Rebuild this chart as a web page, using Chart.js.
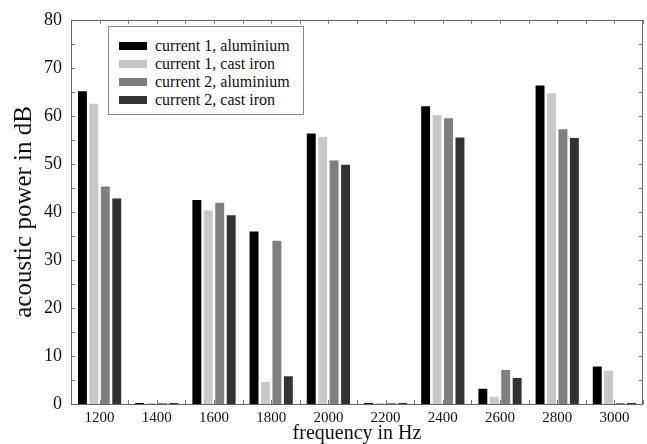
<!DOCTYPE html>
<html>
<head>
<meta charset="utf-8">
<script src="https://cdn.jsdelivr.net/npm/chart.js@4/dist/chart.umd.min.js"></script>
<style>
  html, body { margin: 0; padding: 0; background: #fff; }
  #wrap { position: relative; width: 647px; height: 444px; }
  #legend {
    position: absolute; left: 108px; top: 26px; width: 194px; height: 87px;
    border: 1px solid #8a8a8a; background: #fff;
    font-family: "Liberation Serif", serif; font-size: 16px; color: #111;
    box-sizing: content-box;
  }
  .item { position: absolute; left: 10px; height: 18px; line-height: 18px; white-space: nowrap; }
  .swatch { display: inline-block; width: 28px; height: 8px; vertical-align: middle; margin-right: 8px; position: relative; top: -1px; }
</style>
</head>
<body>
<div id="wrap">
  <canvas id="chart" width="647" height="444"></canvas>
  <div id="legend"></div>
</div>
<script>
const frequencies = ['1200', '1400', '1600', '1800', '2000', '2200', '2400', '2600', '2800', '3000'];
const current1Aluminium = [65.1, 0.2, 42.5, 35.9, 56.3, 0.2, 62.0, 3.2, 66.3, 7.8];
const current1CastIron  = [62.5, 0.2, 40.3, 4.6, 55.6, 0.2, 60.2, 1.5, 64.7, 6.9];
const current2Aluminium = [45.3, 0.2, 41.9, 34.0, 50.7, 0.2, 59.5, 7.1, 57.2, 0.2];
const current2CastIron  = [42.8, 0.2, 39.3, 5.8, 49.8, 0.2, 55.5, 5.4, 55.4, 0.2];

const series = [
    { label: 'current 1, aluminium', data: current1Aluminium, color: '#000000' },
    { label: 'current 1, cast iron', data: current1CastIron, color: '#c8c8c8' },
    { label: 'current 2, aluminium', data: current2Aluminium, color: '#7f7f7f' },
    { label: 'current 2, cast iron', data: current2CastIron, color: '#333333' }
];

// legend box inside the plot, like the original
const legendEl = document.getElementById('legend');
series.forEach((s, i) => {
    const row = document.createElement('div');
    row.className = 'item';
    row.style.top = (10 + i * 18) + 'px';
    row.innerHTML = `<span class="swatch" style="background:${s.color}"></span>${s.label}`;
    legendEl.appendChild(row);
});

// frame with inward ticks on all four sides
const framePlugin = {
    id: 'frame',
    afterDatasetsDraw(chart) {
        const { ctx, chartArea: a, scales: { x, y } } = chart;
        ctx.save();
        ctx.strokeStyle = '#777';
        ctx.lineWidth = 1;
        ctx.beginPath();
        for (let v = -0.5; v <= frequencies.length - 0.5; v += 0.5) {
            const px = Math.round(x.getPixelForValue(v)) + 0.5;
            ctx.moveTo(px, a.bottom); ctx.lineTo(px, a.bottom - 4);
            ctx.moveTo(px, a.top); ctx.lineTo(px, a.top + 4);
        }
        for (let v = 0; v <= 80; v += 5) {
            const py = Math.round(y.getPixelForValue(v)) + 0.5;
            ctx.moveTo(a.left, py); ctx.lineTo(a.left + 4, py);
            ctx.moveTo(a.right, py); ctx.lineTo(a.right - 4, py);
        }
        ctx.stroke();
        ctx.strokeStyle = '#666';
        ctx.strokeRect(Math.round(a.left) + 0.5, Math.round(a.top) + 0.5,
            Math.round(a.right - a.left) - 1, Math.round(a.bottom - a.top));
        ctx.restore();
    }
};

new Chart(document.getElementById('chart').getContext('2d'), {
    type: 'bar',
    data: {
        labels: frequencies,
        datasets: series.map(s => ({
            label: s.label,
            data: s.data,
            backgroundColor: s.color,
            borderWidth: 0,
            categoryPercentage: 0.8,
            barPercentage: 0.78
        }))
    },
    options: {
        responsive: false,
        animation: false,
        layout: { padding: { top: 13, right: 4, left: 0, bottom: 0 } },
        plugins: { legend: { display: false }, tooltip: { enabled: false } },
        scales: {
            x: {
                offset: true,
                grid: { display: false, drawTicks: false },
                border: { display: false },
                ticks: { font: { family: 'Liberation Serif', size: 15 }, color: '#111', padding: 5, maxRotation: 0 },
                title: {
                    display: true, text: 'frequency in Hz', color: '#111',
                    font: { family: 'Liberation Serif', size: 20, lineHeight: 1 },
                    padding: { top: 0, bottom: 0 }
                },
                afterFit: s => { s.height = 40; }
            },
            y: {
                min: 0, max: 80,
                grid: { display: false, drawTicks: false },
                border: { display: false },
                ticks: { stepSize: 10, font: { family: 'Liberation Serif', size: 18 }, color: '#111', padding: 9 },
                title: {
                    display: true, text: 'acoustic power in dB', color: '#111',
                    font: { family: 'Liberation Serif', size: 25, lineHeight: 1 },
                    padding: { top: 12, bottom: 0 }
                },
                afterFit: s => { s.width = 71; }
            }
        }
    },
    plugins: [framePlugin]
});
</script>
</body>
</html>
